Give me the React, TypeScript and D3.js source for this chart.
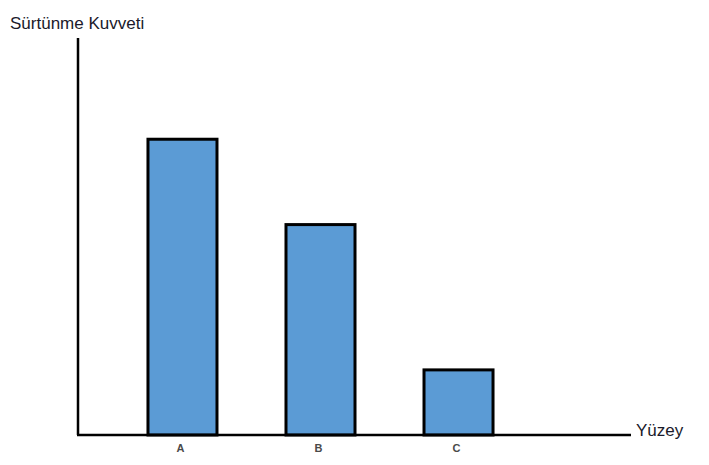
import * as d3 from 'd3';
import { useEffect, useRef } from 'react';

const categories = ['A', 'B', 'C'];
const values = [74.5, 53, 16.4];
const yMax = 100;

const width = 709;
const height = 465;

export default function App() {
  const svgRef = useRef<SVGSVGElement>(null);

  useEffect(() => {
    const svg = d3.select(svgRef.current);
    svg.selectAll('*').remove();

    const x0 = 78;
    const baseY = 435;
    const topY = 38;

    const x = d3
      .scaleBand<string>()
      .domain(categories)
      .range([x0, 563])
      .paddingInner(0.5)
      .paddingOuter(0.507);
    const y = d3.scaleLinear().domain([0, yMax]).range([baseY, topY]);

    // bars
    svg
      .append('g')
      .selectAll('rect')
      .data(categories)
      .join('rect')
      .attr('x', (d) => x(d)!)
      .attr('y', (d, i) => y(values[i]))
      .attr('width', x.bandwidth())
      .attr('height', (d, i) => baseY - y(values[i]))
      .attr('fill', '#5b9bd5')
      .attr('stroke', '#000')
      .attr('stroke-width', 3);

    // axes
    svg
      .append('line')
      .attr('x1', x0)
      .attr('x2', x0)
      .attr('y1', topY)
      .attr('y2', baseY)
      .attr('stroke', '#000')
      .attr('stroke-width', 2.5);
    svg
      .append('line')
      .attr('x1', x0 - 1)
      .attr('x2', 631)
      .attr('y1', baseY)
      .attr('y2', baseY)
      .attr('stroke', '#000')
      .attr('stroke-width', 2.5);

    // category labels
    svg
      .append('g')
      .selectAll('text')
      .data(categories)
      .join('text')
      .attr('x', (d) => x(d)! + x.bandwidth() / 2 - 2)
      .attr('y', 452)
      .attr('text-anchor', 'middle')
      .attr('font-family', 'Liberation Sans, Arial, sans-serif')
      .attr('font-size', 11)
      .attr('font-weight', 'bold')
      .attr('fill', '#4a4a4a')
      .text((d) => d);

    svg
      .append('text')
      .attr('x', 10)
      .attr('y', 29)
      .attr('font-family', 'Liberation Sans, Arial, sans-serif')
      .attr('font-size', 17)
      .attr('fill', '#1a1a2a')
      .text('Sürtünme Kuvveti');

    svg
      .append('text')
      .attr('x', 636)
      .attr('y', 436)
      .attr('font-family', 'Liberation Sans, Arial, sans-serif')
      .attr('font-size', 17)
      .attr('fill', '#1a1a2a')
      .text('Yüzey');
  }, []);

  return (
    <svg
      ref={svgRef}
      width={width}
      height={height}
      style={{ position: 'absolute', left: 0, top: 0, background: '#fff' }}
    />
  );
}
